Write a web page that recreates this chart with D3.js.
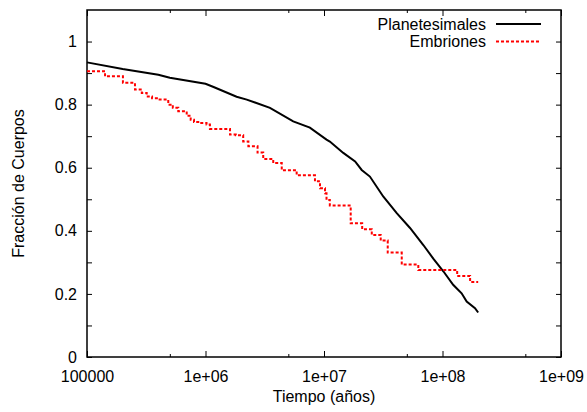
<!DOCTYPE html>
<html>
<head>
<meta charset="utf-8">
<script src="https://cdn.jsdelivr.net/npm/d3@7"></script>
<style>
  html, body { margin: 0; padding: 0; background: #fff; }
  text { font-family: "Liberation Sans", Arial, Helvetica, sans-serif; }
</style>
</head>
<body>
<svg id="chart" width="587" height="412"></svg>
<script>
// ---- Data ----
const plTime = [1e5, 2.0e5, 4.0e5, 5.0e5, 1.0e6, 1.17e6, 1.83e6, 2.23e6, 3.5e6, 5.5e6, 7.6e6, 1.05e7, 1.12e7, 1.455e7, 1.83e7, 2.08e7, 2.44e7, 3.16e7, 4.11e7, 5.32e7, 6.89e7, 8.36e7, 1.02e8, 1.23e8, 1.45e8, 1.60e8, 1.88e8, 2.0e8];
const plFrac = [0.934, 0.913, 0.895, 0.885, 0.866, 0.856, 0.825, 0.816, 0.790, 0.747, 0.727, 0.689, 0.683, 0.647, 0.620, 0.593, 0.572, 0.509, 0.456, 0.409, 0.355, 0.312, 0.271, 0.229, 0.202, 0.176, 0.155, 0.141];

const emTime = [1e5, 1.42e5, 2.01e5, 2.54e5, 2.9e5, 3.19e5, 3.54e5, 4.0e5, 4.85e5, 5.3e5, 5.89e5, 6.94e5, 7.5e5, 8.0e5, 8.69e5, 1.02e6, 1.09e6, 1.61e6, 1.8e6, 2.08e6, 2.30e6, 2.75e6, 3.07e6, 3.73e6, 4.40e6, 5.88e6, 8.39e6, 9.25e6, 1.02e7, 1.05e7, 1.12e7, 1.68e7, 2.10e7, 2.53e7, 3.01e7, 3.45e7, 4.53e7, 6.25e7, 1.33e8, 1.71e8, 2.0e8];
const emFrac = [0.906, 0.89, 0.869, 0.848, 0.837, 0.826, 0.82, 0.816, 0.80, 0.79, 0.779, 0.765, 0.752, 0.745, 0.742, 0.737, 0.723, 0.705, 0.703, 0.683, 0.668, 0.648, 0.628, 0.615, 0.592, 0.576, 0.557, 0.535, 0.519, 0.498, 0.480, 0.424, 0.405, 0.387, 0.369, 0.331, 0.293, 0.276, 0.257, 0.238, 0.238];

const seriesNames = ["Planetesimales", "Embriones"];
const xMajorTicks = [1e5, 1e6, 1e7, 1e8, 1e9];
const xTickLabels = ["100000", "1e+06", "1e+07", "1e+08", "1e+09"];
const xMinorTicks = [5e5, 5e6, 5e7, 5e8];
const yTicks = [0, 0.1, 0.2, 0.3, 0.4, 0.5, 0.6, 0.7, 0.8, 0.9, 1.0];
const yLabelTicks = [0, 0.2, 0.4, 0.6, 0.8, 1.0];
const yTickLabels = ["0", "0.2", "0.4", "0.6", "0.8", "1"];
const xTitle = "Tiempo (años)";
const yTitle = "Fracción de Cuerpos";

// ---- Layout ----
const W = 587, H = 412;
const m = { left: 87, right: 26, top: 10, bottom: 55 };
const pw = W - m.left - m.right, ph = H - m.top - m.bottom;
const FS = 16;

const svg = d3.select("#chart");
const g = svg.append("g").attr("transform", `translate(${m.left},${m.top})`);

const x = d3.scaleLog().domain([1e5, 1e9]).range([0, pw]);
const y = d3.scaleLinear().domain([0, 1.1]).range([ph, 0]);

function styleAxis(sel) {
  sel.select(".domain").remove();
  sel.selectAll(".tick line").attr("stroke", "#000").attr("stroke-width", 1);
  sel.selectAll("text").attr("font-size", FS).attr("fill", "#000")
     .attr("font-family", '"Liberation Sans", Arial, sans-serif');
}

// Bottom axis with labels
g.append("g").attr("transform", `translate(0,${ph})`)
  .call(d3.axisBottom(x).tickValues(xMajorTicks)
    .tickFormat((d, i) => xTickLabels[i]).tickSizeInner(-6).tickSizeOuter(0).tickPadding(14))
  .call(styleAxis);
g.append("g").attr("transform", `translate(0,${ph})`)
  .call(d3.axisBottom(x).tickValues(xMinorTicks).tickFormat("").tickSizeInner(-3).tickSizeOuter(0))
  .call(styleAxis);
// Top mirror
g.append("g")
  .call(d3.axisTop(x).tickValues(xMajorTicks).tickFormat("").tickSizeInner(-6).tickSizeOuter(0))
  .call(styleAxis);
g.append("g")
  .call(d3.axisTop(x).tickValues(xMinorTicks).tickFormat("").tickSizeInner(-3).tickSizeOuter(0))
  .call(styleAxis);

// Left axis
g.append("g")
  .call(d3.axisLeft(y).tickValues(yTicks).tickFormat("").tickSizeInner(-5).tickSizeOuter(0))
  .call(styleAxis);
g.append("g")
  .call(d3.axisLeft(y).tickValues(yLabelTicks).tickFormat((d, i) => yTickLabels[i]).tickSizeInner(0).tickSizeOuter(0).tickPadding(10))
  .call(styleAxis);
// Right mirror
g.append("g").attr("transform", `translate(${pw},0)`)
  .call(d3.axisRight(y).tickValues(yTicks).tickFormat("").tickSizeInner(-5).tickSizeOuter(0))
  .call(styleAxis);

// Frame
g.append("rect").attr("x", 0).attr("y", 0).attr("width", pw).attr("height", ph)
  .attr("fill", "none").attr("stroke", "#000").attr("stroke-width", 1.5);

// Lines
const plData = plTime.map((t, i) => [t, plFrac[i]]);
const emData = emTime.map((t, i) => [t, emFrac[i]]);

g.append("path").datum(plData)
  .attr("fill", "none").attr("stroke", "#000").attr("stroke-width", 2)
  .attr("d", d3.line().x(d => x(d[0])).y(d => y(d[1])).curve(d3.curveLinear));

g.append("path").datum(emData)
  .attr("fill", "none").attr("stroke", "#ff0000").attr("stroke-width", 2)
  .attr("stroke-dasharray", "3,2")
  .attr("d", d3.line().x(d => x(d[0])).y(d => y(d[1])).curve(d3.curveStepAfter));

// Legend
const legX = 486 - m.left, legY = [24 - m.top, 41.5 - m.top];
const legColors = ["#000", "#ff0000"];
const legDash = [null, "3,2"];
seriesNames.forEach((name, i) => {
  g.append("text").attr("x", legX).attr("y", legY[i]).attr("dy", "0.35em")
    .attr("text-anchor", "end").attr("font-size", FS).attr("fill", "#000").text(name);
  g.append("line").attr("x1", legX + 10).attr("x2", legX + 55)
    .attr("y1", legY[i]).attr("y2", legY[i])
    .attr("stroke", legColors[i]).attr("stroke-width", 2)
    .attr("stroke-dasharray", legDash[i]);
});

// Axis titles
svg.append("text").attr("x", m.left + pw / 2).attr("y", 402)
  .attr("text-anchor", "middle").attr("font-size", FS).attr("fill", "#000").text(xTitle);
svg.append("text").attr("transform", `translate(24,${m.top + ph / 2}) rotate(-90)`)
  .attr("text-anchor", "middle").attr("font-size", FS).attr("fill", "#000").text(yTitle);
</script>
</body>
</html>
